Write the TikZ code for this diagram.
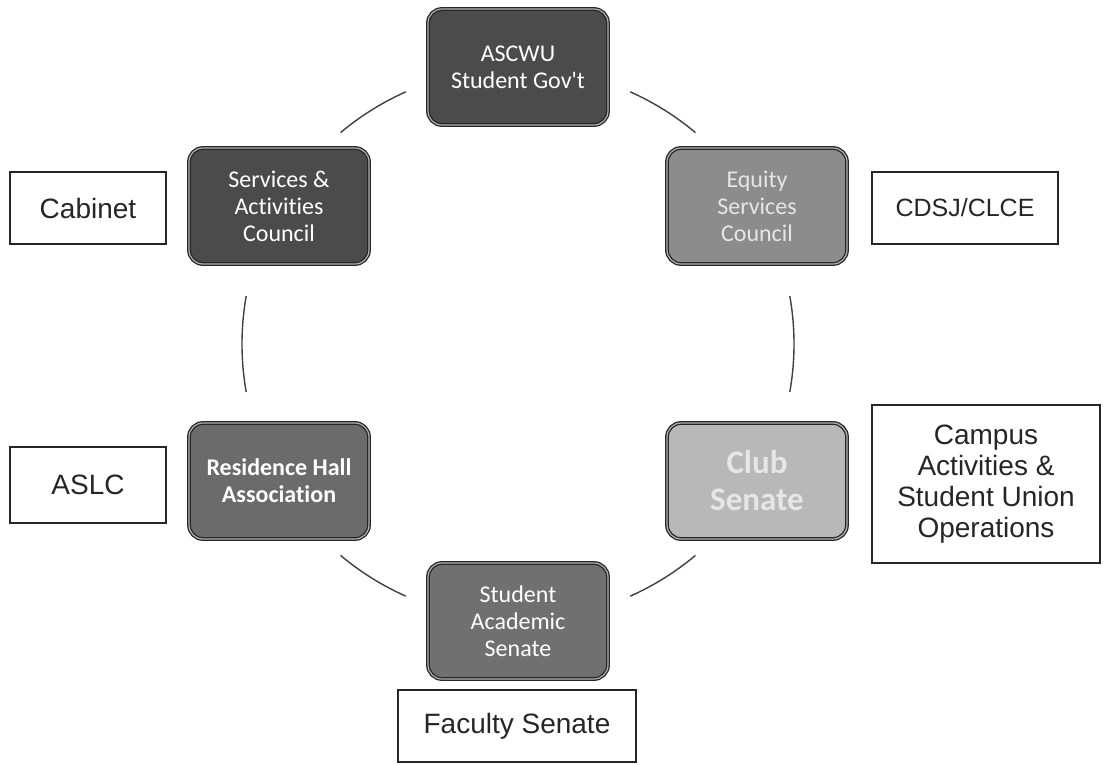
\documentclass[tikz,border=0pt]{standalone}
\usepackage{fontspec}
\usetikzlibrary{calc}
\setmainfont{Liberation Sans}
\newfontfamily\calfont[Ligatures=NoCommon]{Carlito}
\definecolor{gA}{HTML}{4B4B4B}
\definecolor{gB}{HTML}{8C8C8C}
\definecolor{gC}{HTML}{6B6B6B}
\definecolor{gD}{HTML}{B8B8B8}
\definecolor{gE}{HTML}{707070}
\definecolor{edge}{HTML}{262626}
\definecolor{lite}{HTML}{E6E6E6}
\tikzset{
  gbox/.style={draw=edge, line width=1.3pt, double=gray!60, double distance=1.2pt,
    rounded corners=14pt, minimum width=180pt, minimum height=116pt,
    align=center, text=white, font=\calfont\fontsize{24}{27}\selectfont, inner sep=2pt},
  wbox/.style={draw=edge, line width=1.3pt, fill=white, align=center, text=black!85,
    font=\fontsize{28}{31}\selectfont, inner sep=2pt},
  ring/.style={draw=black!75, line width=1.4pt}
}
\begin{document}
\begin{tikzpicture}[x=1pt,y=-1pt]
\useasboundingbox (0,0) rectangle (1104,764);
\fill[white] (0,0) rectangle (1104,764);
\coordinate (c) at (518,344);
% arcs of the ring
\draw[ring] ($(c)+(-114:276)$) arc[start angle=-114, end angle=-130, radius=276];
\draw[ring] ($(c)+(-66:276)$) arc[start angle=-66, end angle=-50, radius=276];
\draw[ring] ($(c)+(-170:276)$) arc[start angle=-170, end angle=-190, radius=276];
\draw[ring] ($(c)+(-10:276)$) arc[start angle=-10, end angle=10, radius=276];
\draw[ring] ($(c)+(130:276)$) arc[start angle=130, end angle=114, radius=276];
\draw[ring] ($(c)+(66:276)$) arc[start angle=66, end angle=50, radius=276];
% gray boxes
\node[gbox, fill=gA] (ascwu) at (518,67) {ASCWU\\Student Gov't};
\node[gbox, fill=gA] (sac) at (279,206) {Services \&\\Activities\\Council};
\node[gbox, fill=gB, text=lite] (esc) at (757,206) {Equity\\Services\\Council};
\node[gbox, fill=gC, font=\calfont\bfseries\fontsize{24}{27}\selectfont] (rha) at (279,481) {Residence Hall\\Association};
\node[gbox, fill=gD, text=lite, font=\calfont\bfseries\fontsize{33}{37}\selectfont] (club) at (757,481) {Club\\Senate};
\node[gbox, fill=gE] (sas) at (518,621) {Student\\Academic\\Senate};
% white boxes
\node[wbox, minimum width=156pt, minimum height=72pt] (cab) at (88,208) {Cabinet};
\node[wbox, minimum width=186pt, minimum height=72pt, font=\fontsize{25}{29}\selectfont] (cdsj) at (965,208) {CDSJ/CLCE};
\node[wbox, minimum width=156pt, minimum height=76pt] (aslc) at (88,485) {ASLC};
\node[wbox, minimum width=228pt, minimum height=158pt] (campus) at (986,484) {Campus\\Activities \&\\Student Union\\Operations};
\node[wbox, minimum width=238pt, minimum height=72pt] (fac) at (517,726) {Faculty Senate};
\end{tikzpicture}
\end{document}
